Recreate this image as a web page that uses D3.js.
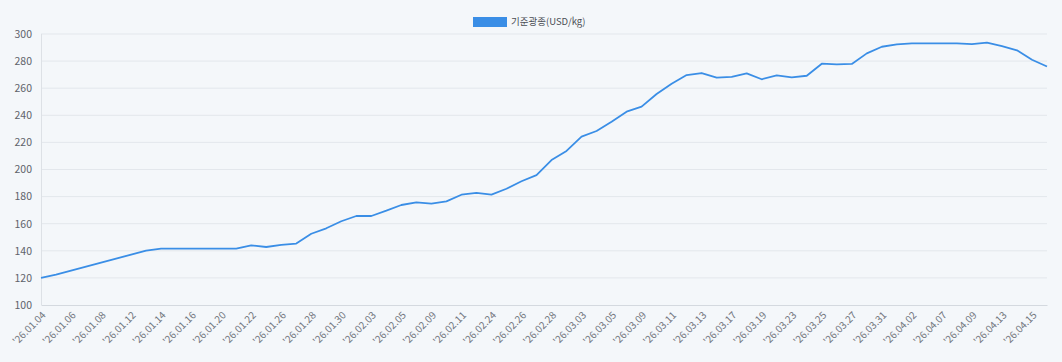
<!DOCTYPE html>
<html>
<head>
<meta charset="utf-8">
<script src="https://cdn.jsdelivr.net/npm/d3@7"></script>
<style>
  html, body { margin: 0; padding: 0; background: #f4f7fa; }
  svg { display: block; }
  text { font-family: "Noto Sans CJK KR", "Noto Sans", sans-serif; }
</style>
</head>
<body>
<svg id="chart" width="1062" height="362"></svg>
<script>
const seriesName = "기준광종(USD/kg)";
const dates = [
  "'26.01.04","'26.01.05","'26.01.06","'26.01.07","'26.01.08","'26.01.09","'26.01.12","'26.01.13",
  "'26.01.14","'26.01.15","'26.01.16","'26.01.19","'26.01.20","'26.01.21","'26.01.22","'26.01.23",
  "'26.01.26","'26.01.27","'26.01.28","'26.01.29","'26.01.30","'26.02.02","'26.02.03","'26.02.04",
  "'26.02.05","'26.02.06","'26.02.09","'26.02.10","'26.02.11","'26.02.12","'26.02.24","'26.02.25",
  "'26.02.26","'26.02.27","'26.02.28","'26.03.02","'26.03.03","'26.03.04","'26.03.05","'26.03.06",
  "'26.03.09","'26.03.10","'26.03.11","'26.03.12","'26.03.13","'26.03.16","'26.03.17","'26.03.18",
  "'26.03.19","'26.03.20","'26.03.23","'26.03.24","'26.03.25","'26.03.26","'26.03.27","'26.03.30",
  "'26.03.31","'26.04.01","'26.04.02","'26.04.06","'26.04.07","'26.04.08","'26.04.09","'26.04.10",
  "'26.04.13","'26.04.14","'26.04.15","'26.04.16"
];
const prices = [
  120.0, 122.4, 125.4, 128.3, 131.3, 134.2, 137.2, 140.1,
  141.6, 141.6, 141.6, 141.6, 141.6, 141.6, 144.0, 142.8,
  144.3, 145.3, 152.6, 156.6, 161.8, 165.7, 165.7, 169.6,
  173.8, 175.8, 174.8, 176.5, 181.4, 182.7, 181.4, 185.8,
  191.3, 195.9, 207.0, 213.7, 224.2, 228.4, 235.3, 242.7,
  246.4, 255.7, 263.3, 269.7, 271.2, 267.8, 268.3, 271.0,
  266.6, 269.5, 268.0, 269.2, 278.1, 277.6, 277.9, 285.7,
  290.6, 292.4, 293.1, 293.1, 293.1, 293.1, 292.6, 293.6,
  291.1, 288.0, 281.0, 276.0
];
const yTicks = [100, 120, 140, 160, 180, 200, 220, 240, 260, 280, 300];

const svg = d3.select("#chart");
const mLeft = 41, mRight = 1047, mTop = 34, mBottom = 305;

const x = d3.scalePoint().domain(dates).range([mLeft, mRight]);
const y = d3.scaleLinear().domain([100, 300]).range([mBottom, mTop]);

// grid lines
svg.append("g").selectAll("line").data(yTicks.filter(t => t !== 100)).join("line")
  .attr("x1", mLeft).attr("x2", mRight)
  .attr("y1", d => y(d)).attr("y2", d => y(d))
  .attr("stroke", "#e3e7ec").attr("stroke-width", 1);

// y axis line
svg.append("line").attr("x1", mLeft + 0.5).attr("x2", mLeft + 0.5)
  .attr("y1", mTop).attr("y2", mBottom)
  .attr("stroke", "#dde1e6");

// x axis
const xAxis = d3.axisBottom(x)
  .tickValues(dates.filter((d, i) => i % 2 === 0 && i < dates.length - 1))
  .tickSize(0).tickPadding(0);
const gx = svg.append("g").attr("transform", `translate(0,${mBottom})`).call(xAxis);
gx.select(".domain").attr("stroke", "#d4d9df");
gx.selectAll("text")
  .attr("fill", "#72767e").attr("font-size", 10)
  .attr("text-anchor", "end")
  .attr("dy", null).attr("y", null)
  .attr("dominant-baseline", "middle")
  .attr("transform", "translate(3,9) rotate(-45)");

// y axis labels
const yAxis = d3.axisLeft(y).tickValues(yTicks).tickSize(0).tickPadding(9);
const gy = svg.append("g").attr("transform", `translate(${mLeft},0)`).call(yAxis);
gy.select(".domain").remove();
gy.selectAll("text").attr("fill", "#5f636b").attr("font-size", 10.5);

// line
const line = d3.line().x((d, i) => x(dates[i])).y(d => y(d));
svg.append("path").datum(prices)
  .attr("fill", "none").attr("stroke", "#3a8ee6")
  .attr("stroke-width", 1.8).attr("stroke-linejoin", "round")
  .attr("d", line);

// legend
const lg = svg.append("g");
lg.append("rect").attr("x", 473).attr("y", 17).attr("width", 34).attr("height", 10)
  .attr("fill", "#3a8ee6");
lg.append("text").attr("x", 511).attr("y", 22).attr("dominant-baseline", "middle")
  .attr("font-size", 9.5).attr("fill", "#4a4e55").text(seriesName);
</script>
</body>
</html>
